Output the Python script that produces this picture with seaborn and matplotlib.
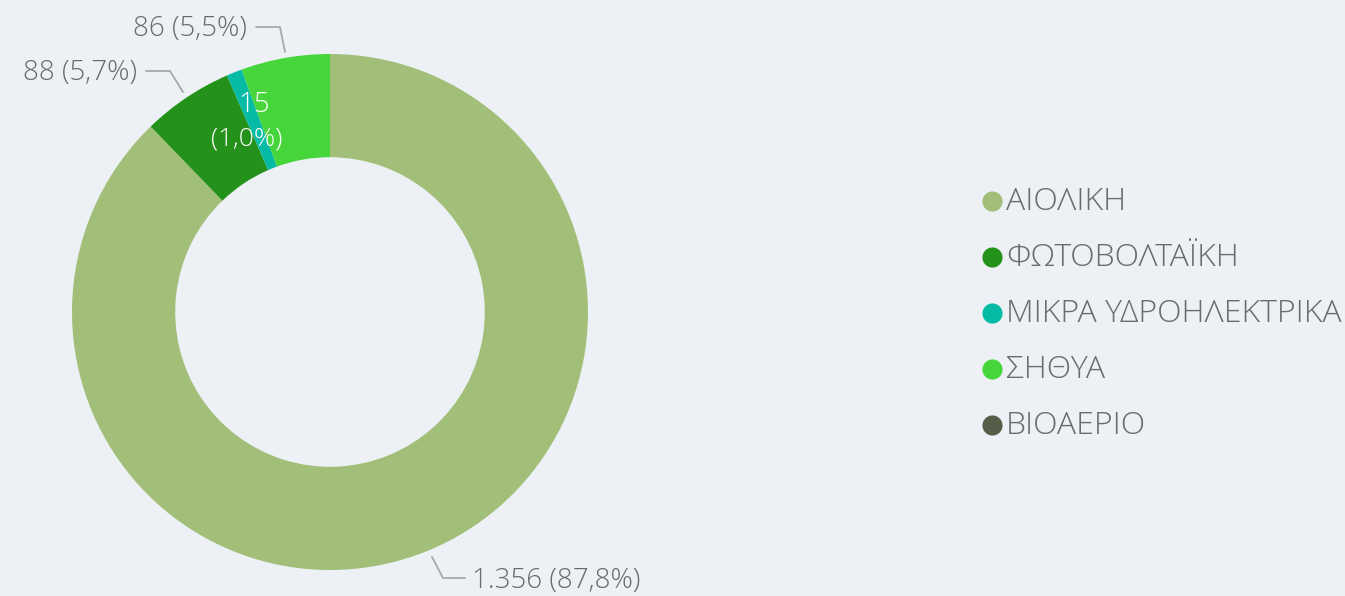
import matplotlib
matplotlib.use("Agg")
import matplotlib.pyplot as plt
import seaborn as sns

categories = ["ΑΙΟΛΙΚΗ", "ΦΩΤΟΒΟΛΤΑΪΚΗ", "ΜΙΚΡΑ ΥΔΡΟΗΛΕΚΤΡΙΚΑ", "ΣΗΘΥΑ", "ΒΙΟΑΕΡΙΟ"]
values = [1356, 88, 15, 86, 0]
value_labels = ["1.356 (87,8%)", "88 (5,7%)", "15", "86 (5,5%)", ""]
pct_inside = "(1,0%)"
colors = ["#A1BF78", "#23911A", "#05BBA6", "#46D53A", "#555E48"]

BG = "#EDF0F5"
TXT = "#6B6B6B"
LINE = "#A8A8A8"
FAM = ["Open Sans", "DejaVu Sans"]

sns.set_theme(style="white")
plt.rcParams["font.family"] = FAM

fig = plt.figure(figsize=(13.45, 5.96), dpi=100, facecolor=BG)
ax = fig.add_axes([0, 0, 1, 1])
ax.set_facecolor(BG)

H = 596
cx, cy, R = 330, H - 312, 258
wedges, _ = ax.pie(values, colors=colors, startangle=90, counterclock=False,
                   radius=R, center=(cx, cy), frame=True,
                   wedgeprops=dict(width=R * 0.4, linewidth=0))
ax.set_xlim(0, 1345)
ax.set_ylim(0, 596)
ax.axis("off")

fs = 20
# outside labels with leader lines
ax.plot([432, 443, 465], [H - 557, H - 578, H - 578], color=LINE, lw=1.3)
ax.text(472, H - 581, value_labels[0], ha="left", va="center", color=TXT,
        fontsize=fs, fontweight="light")
ax.plot([183, 170, 146], [H - 92, H - 71, H - 71], color=LINE, lw=1.3)
ax.text(137, H - 73, value_labels[1], ha="right", va="center", color=TXT,
        fontsize=fs, fontweight="light")
ax.plot([285, 280, 256], [H - 52, H - 27, H - 27], color=LINE, lw=1.3)
ax.text(247, H - 29, value_labels[3], ha="right", va="center", color=TXT,
        fontsize=fs, fontweight="light")
ax.text(254, H - 105, value_labels[2], ha="center", va="center", color="white",
        fontsize=fs, fontweight="light")
ax.text(247, H - 139, pct_inside, ha="center", va="center", color="white",
        fontsize=19, fontweight="light")

# legend
lx, ly0, dy = 992, 201, 56
for i, (cat, col) in enumerate(zip(categories, colors)):
    y = H - (ly0 + i * dy)
    ax.scatter([lx], [y], s=210, color=col, linewidths=0, zorder=3)
    ax.text(lx + 14, y - 1, cat, ha="left", va="center", color=TXT,
            fontsize=23, fontweight="light")

fig.savefig("out.png", dpi=100, facecolor=BG)
